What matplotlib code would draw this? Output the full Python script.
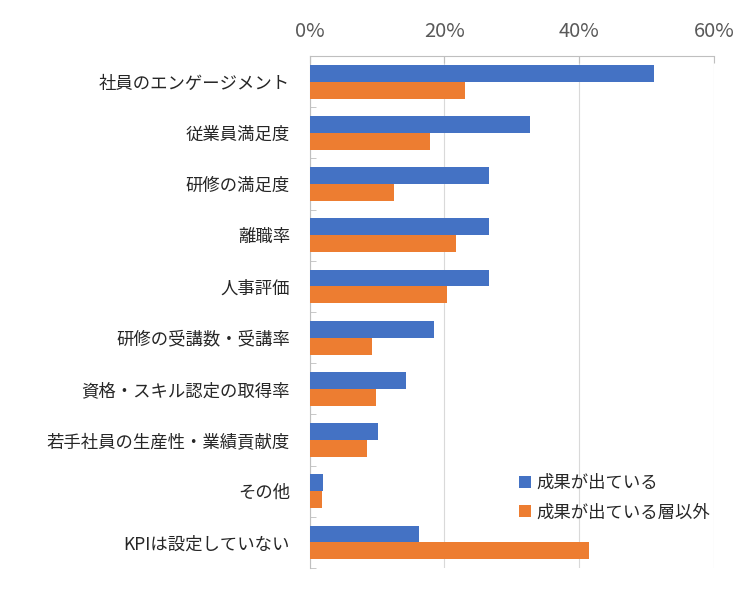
import matplotlib
matplotlib.use("Agg")
import matplotlib.pyplot as plt
import numpy as np

plt.rcParams['font.family'] = ['Noto Sans CJK JP', 'DejaVu Sans']

categories = [
    "社員のエンゲージメント",
    "従業員満足度",
    "研修の満足度",
    "離職率",
    "人事評価",
    "研修の受講数・受講率",
    "資格・スキル認定の取得率",
    "若手社員の生産性・業績貢献度",
    "その他",
    "KPIは設定していない",
]
series_names = ["成果が出ている", "成果が出ている層以外"]
achieved = [51.1, 32.7, 26.6, 26.6, 26.6, 18.4, 14.3, 10.2, 2.0, 16.3]
others = [23.1, 17.8, 12.5, 21.7, 20.4, 9.2, 9.9, 8.6, 1.9, 41.5]
xticks = [0, 20, 40, 60]

blue = "#4472C4"
orange = "#ED7D31"
grid_c = "#D9D9D9"

fig = plt.figure(figsize=(7.5, 6.03), dpi=100)
ax = fig.add_axes([0.4127, 0.058, 0.5393, 0.849])

y = np.arange(len(categories))
h = 0.33
ax.barh(y - h / 2, achieved, height=h, color=blue, label=series_names[0], zorder=3)
ax.barh(y + h / 2, others, height=h, color=orange, label=series_names[1], zorder=3)

ax.set_xlim(0, 60)
ax.set_ylim(len(categories) - 0.5, -0.5)
ax.xaxis.tick_top()
ax.set_xticks(xticks)
ax.set_xticklabels([f"{t}%" for t in xticks], fontsize=14.5, color="#595959")
ax.tick_params(axis="x", direction="in", length=5, color="#BFBFBF", pad=10)
ax.grid(axis="x", color=grid_c, linewidth=0.8, zorder=0)

ax.set_yticks(y)
ax.set_yticklabels(categories, fontsize=12.5, color="#262626")
ax.tick_params(axis="y", length=0, pad=14)
ax.set_yticks(np.arange(-0.5, len(categories), 1), minor=True)
ax.tick_params(axis="y", which="minor", direction="in", length=4, color="#BFBFBF")

for s in ["right", "bottom"]:
    ax.spines[s].set_visible(False)
for s in ["top", "left"]:
    ax.spines[s].set_color("#BFBFBF")
    ax.spines[s].set_linewidth(0.8)

leg = ax.legend(loc="upper left", bbox_to_anchor=(0.5, 0.197), frameon=False,
                fontsize=12.5, handlelength=0.7, handleheight=0.7,
                handletextpad=0.3, labelspacing=0.65, borderaxespad=0)
for t in leg.get_texts():
    t.set_color("#262626")

fig.savefig("out.png", dpi=100)
